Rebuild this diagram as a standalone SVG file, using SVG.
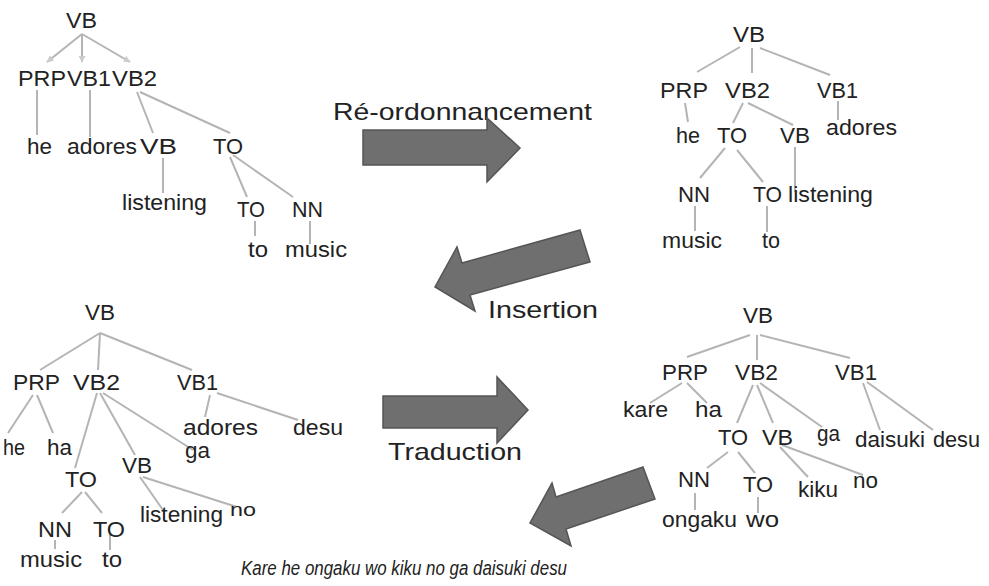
<svg xmlns="http://www.w3.org/2000/svg" width="989" height="586" viewBox="0 0 989 586">
<style>
text{font-family:"Liberation Sans",Arial,sans-serif;font-size:22px;fill:#222}
.lbl{font-size:24px}
.it{font-style:italic;font-size:20px}
.e line{stroke:#b4b4b4;stroke-width:2;fill:none}
.big{fill:#6f6f6f;stroke:#555;stroke-width:1.5;stroke-linejoin:miter}
</style>
<defs>
<marker id="ah" viewBox="0 0 10 10" refX="9" refY="5" markerWidth="3.5" markerHeight="3.5" orient="auto"><path d="M0,0L10,5L0,10z" fill="#ccc"/></marker>
</defs>
<rect width="989" height="586" fill="#fff"/>
<g id="connectors" class="e">
<!-- tree 1 -->
<line x1="82" y1="34" x2="47" y2="62" marker-end="url(#ah)"/>
<line x1="82" y1="34" x2="82" y2="62" marker-end="url(#ah)"/>
<line x1="82" y1="34" x2="130" y2="62" marker-end="url(#ah)"/>
<line x1="37" y1="90" x2="37" y2="135"/>
<line x1="90" y1="90" x2="90" y2="137"/>
<line x1="137" y1="92" x2="153" y2="133"/>
<line x1="140" y1="92" x2="230" y2="133"/>
<line x1="163" y1="158" x2="163" y2="193"/>
<line x1="230" y1="157" x2="247" y2="197"/>
<line x1="233" y1="155" x2="293" y2="197"/>
<line x1="255" y1="221" x2="255" y2="236"/>
<line x1="310" y1="221" x2="310" y2="244"/>
<!-- tree 2 -->
<line x1="740" y1="47" x2="697" y2="72"/>
<line x1="752" y1="48" x2="752" y2="73"/>
<line x1="760" y1="48" x2="830" y2="75"/>
<line x1="685" y1="103" x2="688" y2="122"/>
<line x1="743" y1="103" x2="733" y2="123"/>
<line x1="748" y1="103" x2="793" y2="125"/>
<line x1="838" y1="101" x2="838" y2="120"/>
<line x1="725" y1="148" x2="700" y2="178"/>
<line x1="737" y1="150" x2="763" y2="182"/>
<line x1="795" y1="147" x2="795" y2="192"/>
<line x1="695" y1="206" x2="695" y2="231"/>
<line x1="767" y1="206" x2="767" y2="232"/>
<!-- tree 3 -->
<line x1="100" y1="333" x2="40" y2="370"/>
<line x1="100" y1="333" x2="98" y2="370"/>
<line x1="100" y1="333" x2="192" y2="370"/>
<line x1="33" y1="395" x2="8" y2="433"/>
<line x1="37" y1="395" x2="53" y2="433"/>
<line x1="210" y1="395" x2="205" y2="417"/>
<line x1="217" y1="393" x2="298" y2="420"/>
<line x1="97" y1="393" x2="75" y2="468"/>
<line x1="100" y1="393" x2="135" y2="455"/>
<line x1="103" y1="393" x2="193" y2="450"/>
<line x1="82" y1="492" x2="62" y2="513"/>
<line x1="85" y1="492" x2="102" y2="513"/>
<line x1="140" y1="477" x2="163" y2="510"/>
<line x1="143" y1="477" x2="237" y2="507"/>
<line x1="55" y1="540" x2="55" y2="549"/>
<line x1="110" y1="533" x2="110" y2="550"/>
<!-- tree 4 -->
<line x1="750" y1="335" x2="687" y2="357"/>
<line x1="757" y1="335" x2="757" y2="360"/>
<line x1="760" y1="335" x2="850" y2="358"/>
<line x1="682" y1="383" x2="650" y2="403"/>
<line x1="687" y1="383" x2="707" y2="403"/>
<line x1="753" y1="385" x2="737" y2="423"/>
<line x1="757" y1="385" x2="773" y2="423"/>
<line x1="760" y1="383" x2="822" y2="427"/>
<line x1="863" y1="383" x2="880" y2="430"/>
<line x1="867" y1="382" x2="933" y2="430"/>
<line x1="728" y1="452" x2="707" y2="468"/>
<line x1="738" y1="452" x2="755" y2="473"/>
<line x1="780" y1="447" x2="808" y2="477"/>
<line x1="782" y1="445" x2="863" y2="475"/>
<line x1="695" y1="493" x2="695" y2="510"/>
<line x1="758" y1="497" x2="758" y2="513"/>
</g>
<!-- tree 1 nodes -->
<g id="t1-vb"><text x="66" y="28" textLength="31" lengthAdjust="spacingAndGlyphs">VB</text></g>
<g id="t1-prp"><text x="18" y="86" textLength="48" lengthAdjust="spacingAndGlyphs">PRP</text></g>
<g id="t1-vb1"><text x="67" y="86" textLength="44" lengthAdjust="spacingAndGlyphs">VB1</text></g>
<g id="t1-vb2"><text x="112" y="86" textLength="45" lengthAdjust="spacingAndGlyphs">VB2</text></g>
<g id="t1-he"><text x="27" y="154" textLength="25" lengthAdjust="spacingAndGlyphs">he</text></g>
<g id="t1-adores"><text x="67" y="154" textLength="70" lengthAdjust="spacingAndGlyphs">adores</text></g>
<g id="t1-vb-b"><text x="140" y="154" textLength="37" lengthAdjust="spacingAndGlyphs">VB</text></g>
<g id="t1-to"><text x="213" y="154" textLength="30" lengthAdjust="spacingAndGlyphs">TO</text></g>
<g id="t1-listening"><text x="122" y="210" textLength="85" lengthAdjust="spacingAndGlyphs">listening</text></g>
<g id="t1-to2"><text x="237" y="217" textLength="28" lengthAdjust="spacingAndGlyphs">TO</text></g>
<g id="t1-nn"><text x="292" y="217" textLength="31" lengthAdjust="spacingAndGlyphs">NN</text></g>
<g id="t1-to-w"><text x="248" y="257" textLength="20" lengthAdjust="spacingAndGlyphs">to</text></g>
<g id="t1-music"><text x="285" y="257" textLength="62" lengthAdjust="spacingAndGlyphs">music</text></g>
<!-- tree 2 nodes -->
<g id="t2-vb"><text x="733" y="42" textLength="32" lengthAdjust="spacingAndGlyphs">VB</text></g>
<g id="t2-prp"><text x="660" y="98" textLength="48" lengthAdjust="spacingAndGlyphs">PRP</text></g>
<g id="t2-vb2"><text x="725" y="98" textLength="45" lengthAdjust="spacingAndGlyphs">VB2</text></g>
<g id="t2-vb1"><text x="817" y="98" textLength="41" lengthAdjust="spacingAndGlyphs">VB1</text></g>
<g id="t2-he"><text x="676" y="143" textLength="24" lengthAdjust="spacingAndGlyphs">he</text></g>
<g id="t2-to"><text x="717" y="143" textLength="30" lengthAdjust="spacingAndGlyphs">TO</text></g>
<g id="t2-vb-b"><text x="780" y="143" textLength="30" lengthAdjust="spacingAndGlyphs">VB</text></g>
<g id="t2-adores"><text x="826" y="135" textLength="71" lengthAdjust="spacingAndGlyphs">adores</text></g>
<g id="t2-nn"><text x="678" y="202" textLength="32" lengthAdjust="spacingAndGlyphs">NN</text></g>
<g id="t2-to2"><text x="753" y="202" textLength="29" lengthAdjust="spacingAndGlyphs">TO</text></g>
<g id="t2-listening"><text x="788" y="202" textLength="85" lengthAdjust="spacingAndGlyphs">listening</text></g>
<g id="t2-music"><text x="662" y="248" textLength="60" lengthAdjust="spacingAndGlyphs">music</text></g>
<g id="t2-to-w"><text x="762" y="248" textLength="18" lengthAdjust="spacingAndGlyphs">to</text></g>
<!-- tree 3 nodes -->
<g id="t3-vb"><text x="85" y="320" textLength="30" lengthAdjust="spacingAndGlyphs">VB</text></g>
<g id="t3-prp"><text x="13" y="390" textLength="47" lengthAdjust="spacingAndGlyphs">PRP</text></g>
<g id="t3-vb2"><text x="73" y="390" textLength="47" lengthAdjust="spacingAndGlyphs">VB2</text></g>
<g id="t3-vb1"><text x="177" y="390" textLength="41" lengthAdjust="spacingAndGlyphs">VB1</text></g>
<g id="t3-he"><text x="3" y="455" textLength="22" lengthAdjust="spacingAndGlyphs">he</text></g>
<g id="t3-ha"><text x="47" y="455" textLength="25" lengthAdjust="spacingAndGlyphs">ha</text></g>
<g id="t3-adores"><text x="183" y="435" textLength="75" lengthAdjust="spacingAndGlyphs">adores</text></g>
<g id="t3-desu"><text x="293" y="435" textLength="50" lengthAdjust="spacingAndGlyphs">desu</text></g>
<g id="t3-to"><text x="65" y="487" textLength="32" lengthAdjust="spacingAndGlyphs">TO</text></g>
<g id="t3-vb-b"><text x="122" y="473" textLength="30" lengthAdjust="spacingAndGlyphs">VB</text></g>
<g id="t3-ga"><text x="185" y="458" textLength="25" lengthAdjust="spacingAndGlyphs">ga</text></g>
<g id="t3-nn"><text x="38" y="537" textLength="34" lengthAdjust="spacingAndGlyphs">NN</text></g>
<g id="t3-to2"><text x="93" y="537" textLength="32" lengthAdjust="spacingAndGlyphs">TO</text></g>
<g id="t3-listening"><text x="140" y="522" textLength="83" lengthAdjust="spacingAndGlyphs">listening</text></g>
<g id="t3-no"><text x="230" y="516" textLength="26" lengthAdjust="spacingAndGlyphs" style="font-size:19px">no</text></g>
<g id="t3-music"><text x="20" y="567" textLength="62" lengthAdjust="spacingAndGlyphs">music</text></g>
<g id="t3-to-w"><text x="102" y="567" textLength="20" lengthAdjust="spacingAndGlyphs">to</text></g>
<!-- tree 4 nodes -->
<g id="t4-vb"><text x="743" y="323" textLength="30" lengthAdjust="spacingAndGlyphs">VB</text></g>
<g id="t4-prp"><text x="662" y="380" textLength="46" lengthAdjust="spacingAndGlyphs">PRP</text></g>
<g id="t4-vb2"><text x="735" y="380" textLength="43" lengthAdjust="spacingAndGlyphs">VB2</text></g>
<g id="t4-vb1"><text x="835" y="380" textLength="42" lengthAdjust="spacingAndGlyphs">VB1</text></g>
<g id="t4-kare"><text x="623" y="417" textLength="45" lengthAdjust="spacingAndGlyphs">kare</text></g>
<g id="t4-ha"><text x="695" y="417" textLength="27" lengthAdjust="spacingAndGlyphs">ha</text></g>
<g id="t4-to"><text x="718" y="445" textLength="30" lengthAdjust="spacingAndGlyphs">TO</text></g>
<g id="t4-vb-b"><text x="762" y="445" textLength="31" lengthAdjust="spacingAndGlyphs">VB</text></g>
<g id="t4-ga"><text x="817" y="441" textLength="23" lengthAdjust="spacingAndGlyphs">ga</text></g>
<g id="t4-daisuki"><text x="855" y="447" textLength="70" lengthAdjust="spacingAndGlyphs">daisuki</text></g>
<g id="t4-desu"><text x="933" y="447" textLength="47" lengthAdjust="spacingAndGlyphs">desu</text></g>
<g id="t4-nn"><text x="678" y="487" textLength="32" lengthAdjust="spacingAndGlyphs">NN</text></g>
<g id="t4-to2"><text x="743" y="492" textLength="30" lengthAdjust="spacingAndGlyphs">TO</text></g>
<g id="t4-kiku"><text x="798" y="497" textLength="40" lengthAdjust="spacingAndGlyphs">kiku</text></g>
<g id="t4-no"><text x="853" y="488" textLength="25" lengthAdjust="spacingAndGlyphs">no</text></g>
<g id="t4-ongaku"><text x="662" y="527" textLength="75" lengthAdjust="spacingAndGlyphs">ongaku</text></g>
<g id="t4-wo"><text x="746" y="527" textLength="33" lengthAdjust="spacingAndGlyphs">wo</text></g>
<!-- step labels and block arrows -->
<g id="step-reorder">
<text class="lbl" x="333" y="120" textLength="259" lengthAdjust="spacingAndGlyphs">Ré-ordonnancement</text>
<polygon class="big" points="363,130 487,130 487,118 520,148 487,182 487,165 363,165"/>
</g>
<g id="step-insertion">
<text class="lbl" x="488" y="318" textLength="110" lengthAdjust="spacingAndGlyphs">Insertion</text>
<polygon class="big" points="580,230 462,263 457,247 435,287 475,311 470,295 590,262"/>
</g>
<g id="step-traduction">
<text class="lbl" x="388" y="460" textLength="134" lengthAdjust="spacingAndGlyphs">Traduction</text>
<polygon class="big" points="383,396 497,396 497,377 528,410 497,443 497,428 383,428"/>
</g>
<g id="step-output">
<polygon class="big" points="643,467 556,497 552,483 530,523 571,546 566,529 655,499"/>
</g>
<g id="sentence"><text class="it" x="241" y="575" textLength="326" lengthAdjust="spacingAndGlyphs">Kare he ongaku wo kiku no ga daisuki desu</text></g>
</svg>
